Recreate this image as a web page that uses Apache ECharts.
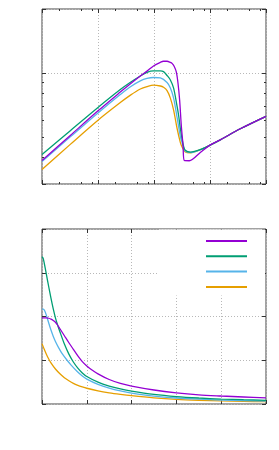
<!DOCTYPE html>
<html><head><meta charset="utf-8">
<script src="https://cdn.jsdelivr.net/npm/echarts@6/dist/echarts.min.js"></script>
<style>html,body{margin:0;padding:0;background:#fff}#c{width:279px;height:450px}</style>
</head><body><div id="c"></div>
<script>
const seriesNames = ['A', 'B', 'C', 'D'];
const colors = ['#9400d3', '#009e73', '#56b4e9', '#e69f00'];

// Top panel (log-log)
const topPurple = [[1,0.387],[3.2,0.508],[10,0.663],[25,0.813],[38,0.890],[57,0.968],[75,1.02],[98,1.079],[130,1.122],[148,1.135],[171,1.135],[196,1.121],[210,1.109],[230,1.073],[250,1.011],[268,0.897],[287,0.745],[307,0.567],[330,0.456],[348,0.387],[427,0.386],[671,0.422],[984,0.456],[1527,0.484],[3475,0.546],[10000,0.625]];
const topGreen = [[1,0.413],[3.2,0.535],[10,0.688],[25,0.835],[38,0.904],[57,0.968],[75,1.006],[98,1.022],[130,1.022],[148,1.014],[171,0.973],[196,0.927],[224,0.849],[258,0.698],[275,0.632],[295,0.549],[316,0.492],[338,0.451],[362,0.432],[445,0.424],[671,0.435],[984,0.456],[1527,0.484],[3475,0.546],[10000,0.625]];
const topBlue = [[1,0.383],[3.2,0.500],[10,0.648],[25,0.791],[38,0.861],[57,0.917],[75,0.942],[98,0.952],[130,0.947],[171,0.901],[196,0.849],[224,0.761],[258,0.619],[295,0.503],[316,0.471],[362,0.429],[477,0.422],[671,0.435],[984,0.456],[1527,0.484],[3475,0.546],[10000,0.625]];
const topOrange = [[1,0.351],[3.2,0.461],[10,0.599],[25,0.725],[38,0.786],[57,0.840],[75,0.863],[98,0.877],[130,0.868],[148,0.856],[171,0.826],[196,0.761],[224,0.668],[258,0.549],[295,0.471],[316,0.449],[362,0.425],[445,0.421],[671,0.435],[984,0.456],[1527,0.484],[3475,0.546],[10000,0.625]];
const topXMinorTicks = [2,5,8,20,50,80,200,500,800,2000,5000,8000];
const topYMinorTicks = [0.4,0.5,0.6,0.7,0.8,0.9];

// Bottom panel (linear)
const botPurple = [[0,1.97],[0.1,1.97],[0.15,1.96],[0.2,1.94],[0.25,1.91],[0.3,1.87],[0.35,1.8],[0.4,1.72],[0.5,1.56],[0.6,1.4],[0.7,1.25],[0.8,1.1],[0.9,0.97],[1.0,0.87],[1.1,0.79],[1.25,0.69],[1.5,0.56],[1.75,0.47],[2.0,0.41],[2.5,0.32],[3.0,0.255],[3.5,0.21],[4.0,0.183],[4.5,0.16],[5.0,0.14]];
const botGreen = [[0,3.37],[0.025,3.33],[0.05,3.22],[0.1,2.95],[0.15,2.68],[0.2,2.42],[0.25,2.18],[0.3,1.97],[0.35,1.8],[0.4,1.65],[0.5,1.37],[0.6,1.14],[0.7,0.96],[0.8,0.82],[0.9,0.71],[1.0,0.63],[1.25,0.5],[1.5,0.41],[1.75,0.345],[2.0,0.295],[2.5,0.22],[3.0,0.17],[3.5,0.137],[4.0,0.113],[4.5,0.098],[5.0,0.085]];
const botBlue = [[0,2.17],[0.03,2.17],[0.06,2.13],[0.1,2.02],[0.15,1.85],[0.2,1.69],[0.25,1.55],[0.3,1.43],[0.37,1.29],[0.45,1.15],[0.56,1.0],[0.65,0.89],[0.78,0.75],[0.9,0.64],[1.0,0.57],[1.25,0.45],[1.5,0.365],[1.75,0.3],[2.0,0.25],[2.5,0.18],[3.0,0.137],[3.5,0.11],[4.0,0.09],[4.5,0.078],[5.0,0.069]];
const botOrange = [[0,1.38],[0.05,1.25],[0.1,1.13],[0.15,1.03],[0.2,0.94],[0.3,0.8],[0.4,0.69],[0.5,0.6],[0.6,0.53],[0.7,0.47],[0.8,0.425],[0.9,0.39],[1.0,0.36],[1.25,0.3],[1.5,0.255],[1.75,0.22],[2.0,0.19],[2.5,0.142],[3.0,0.108],[3.5,0.086],[4.0,0.07],[4.5,0.06],[5.0,0.053]];

const gridLine = {show: true, lineStyle: {color: '#b8b8b8', type: [1, 2], width: 1}};
const tickStyle = {color: '#333', width: 1};
function ax(extra) {
  return Object.assign({
    axisLine: {show: false, onZero: false},
    axisLabel: {show: false},
    splitLine: {show: false},
    axisTick: {show: true, inside: true, length: 4, lineStyle: tickStyle}
  }, extra);
}
const chart = echarts.init(document.getElementById('c'), null, {renderer: 'canvas'});
const topData = [topPurple, topGreen, topBlue, topOrange];
const botData = [botPurple, botGreen, botBlue, botOrange];
const series = [];
topData.forEach((d, i) => series.push({
  name: seriesNames[i], type: 'line', xAxisIndex: 0, yAxisIndex: 0, data: d,
  smooth: 0.3, symbol: 'none', lineStyle: {color: colors[i], width: 1.3}, itemStyle: {color: colors[i]}, z: 10 - i
}));
botData.forEach((d, i) => series.push({
  name: seriesNames[i], type: 'line', xAxisIndex: 4, yAxisIndex: 4, data: d,
  smooth: 0.3, symbol: 'none', lineStyle: {color: colors[i], width: 1.3}, itemStyle: {color: colors[i]}, z: 10 - i
}));
chart.setOption({
  animation: false,
  backgroundColor: '#fff',
  grid: [
    {left: 42, top: 9, width: 224, height: 175, show: true, borderColor: '#444', borderWidth: 1, backgroundColor: 'transparent'},
    {left: 42, top: 229, width: 224, height: 175, show: true, borderColor: '#444', borderWidth: 1, backgroundColor: 'transparent'}
  ],
  legend: {
    data: seriesNames, orient: 'vertical', right: 14, top: 229.5,
    backgroundColor: '#fff', padding: [10.5, 18, 7.5, 47],
    icon: 'rect', itemWidth: 41, itemHeight: 2, itemGap: 13.3,
    formatter: () => '', textStyle: {fontSize: 1}, selectedMode: false, z: 20
  },
  xAxis: [
    ax({gridIndex: 0, type: 'log', min: 1, max: 10000, position: 'bottom', splitLine: gridLine}),
    ax({gridIndex: 0, type: 'log', min: 1, max: 10000, position: 'top'}),
    ax({gridIndex: 0, type: 'log', min: 1, max: 10000, position: 'bottom', axisTick: {show: true, inside: true, length: 2, lineStyle: tickStyle, customValues: topXMinorTicks}}),
    ax({gridIndex: 0, type: 'log', min: 1, max: 10000, position: 'top', axisTick: {show: true, inside: true, length: 2, lineStyle: tickStyle, customValues: topXMinorTicks}}),
    ax({gridIndex: 1, type: 'value', min: 0, max: 5, interval: 1, position: 'bottom', splitLine: gridLine}),
    ax({gridIndex: 1, type: 'value', min: 0, max: 5, interval: 1, position: 'top'})
  ],
  yAxis: [
    ax({gridIndex: 0, type: 'log', min: 0.3, max: 2, position: 'left', splitLine: gridLine}),
    ax({gridIndex: 0, type: 'log', min: 0.3, max: 2, position: 'right'}),
    ax({gridIndex: 0, type: 'log', min: 0.3, max: 2, position: 'left', axisTick: {show: true, inside: true, length: 2, lineStyle: tickStyle, customValues: topYMinorTicks}}),
    ax({gridIndex: 0, type: 'log', min: 0.3, max: 2, position: 'right', axisTick: {show: true, inside: true, length: 2, lineStyle: tickStyle, customValues: topYMinorTicks}}),
    ax({gridIndex: 1, type: 'value', min: 0, max: 4, interval: 1, position: 'left', splitLine: gridLine}),
    ax({gridIndex: 1, type: 'value', min: 0, max: 4, interval: 1, position: 'right'})
  ],
  series: series
});
</script></body></html>
